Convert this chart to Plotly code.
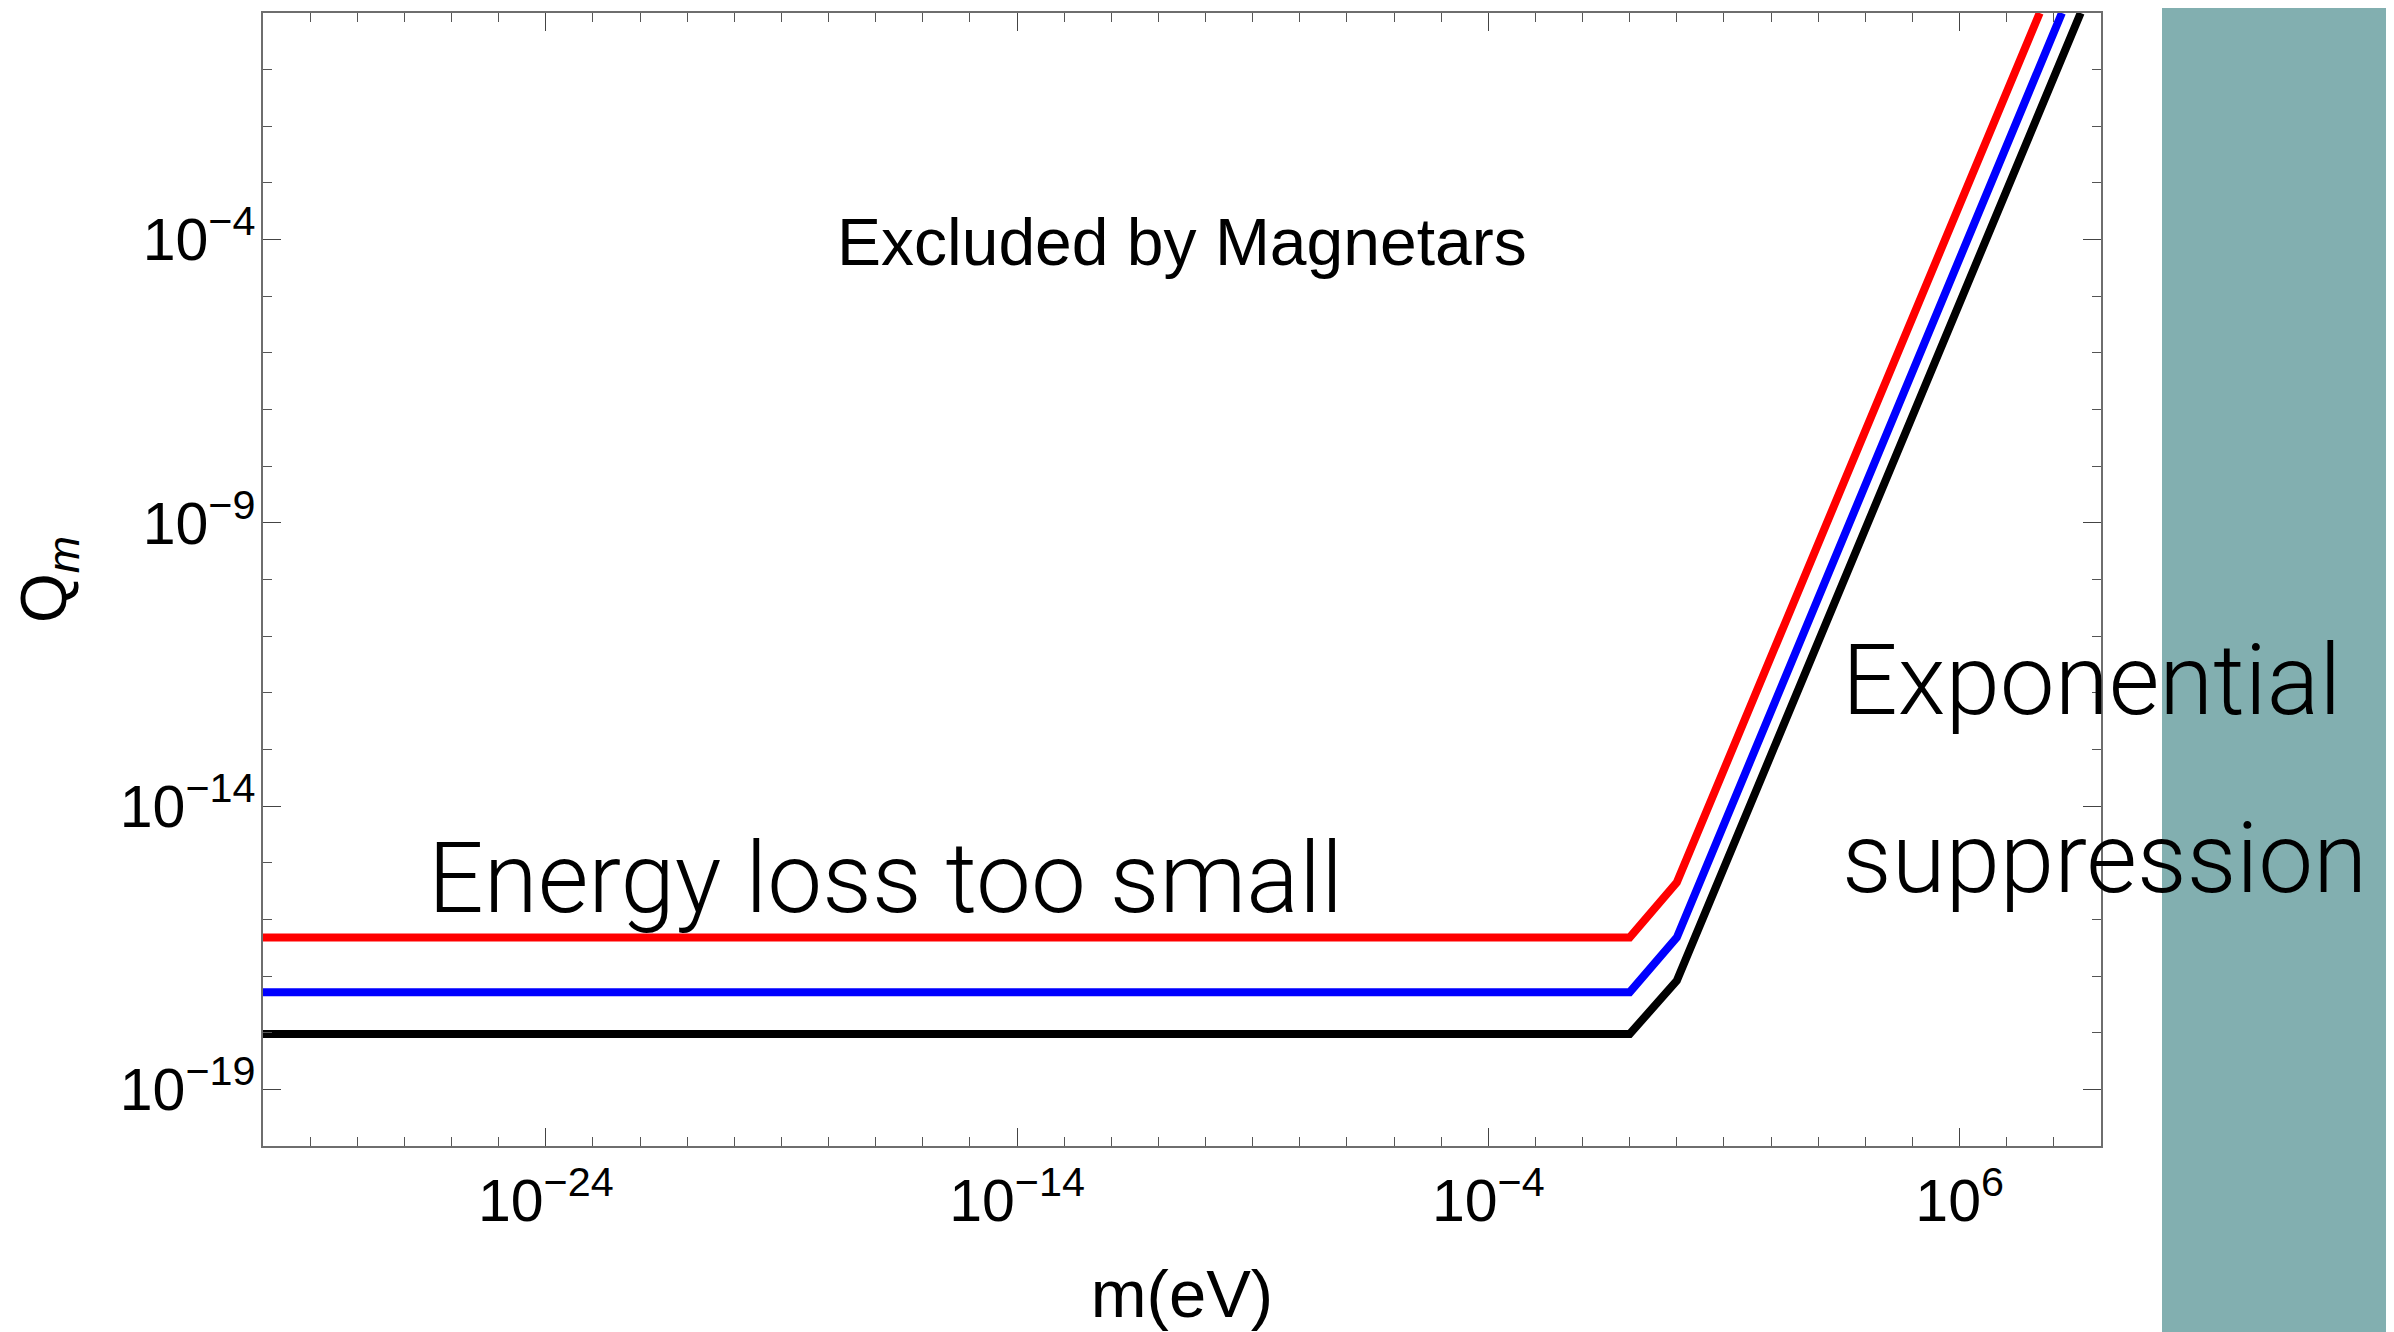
import plotly.graph_objects as go

# ---- data (m in eV, Q_m dimensionless) ----
m_red = [1e-30, 1e-1, 1e0, 5.0e7]
q_red = [4.8e-17, 4.8e-17, 4.5e-16, 1.0]

m_blue = [1e-30, 1e-1, 1e0, 1.48e8]
q_blue = [5.2e-18, 5.2e-18, 4.8e-17, 1.0]

m_black = [1e-30, 1e-1, 1e0, 3.7e8]
q_black = [9.5e-19, 9.5e-19, 8.3e-18, 1.0]

x_tickvals = [1e-24, 1e-14, 1e-4, 1e6]
x_ticktext = ["10<sup>\u221224</sup>", "10<sup>\u221214</sup>", "10<sup>\u22124</sup>", "10<sup>6</sup>"]
x_minor = [10.0 ** k for k in range(-30, 10)]

y_tickvals = [1e-19, 1e-14, 1e-9, 1e-4]
y_ticktext = ["10<sup>\u221219</sup>", "10<sup>\u221214</sup>", "10<sup>\u22129</sup>", "10<sup>\u22124</sup>"]
y_minor = [10.0 ** k for k in range(-20, 1)]

# page has an 8px body margin: figure is offset by 8px
OFF = 8
W, H = 2394 - OFF, 1332 - OFF
L, R, T, B = 263, 2101, 11, 1146   # plot area in page pixels


def px(x):
    return (x - L) / (R - L)


def py(y):
    return (B - y) / (B - T)


fig = go.Figure()
for m, q, c in [(m_red, q_red, "#ff0000"), (m_blue, q_blue, "#0000ff"), (m_black, q_black, "#000000")]:
    fig.add_trace(go.Scatter(x=m, y=q, mode="lines", line=dict(color=c, width=8),
                             showlegend=False, hoverinfo="skip"))

axis_common = dict(
    type="log", showgrid=False, zeroline=False, showline=True, linecolor="#6e6e6e", linewidth=1.5,
    mirror="allticks", ticks="inside", ticklen=18, tickwidth=1.3, tickcolor="#444444",
    tickfont=dict(family="Liberation Sans, Arial, sans-serif", size=59, color="#000000"),
)

fig.update_xaxes(
    range=[-30, 9], tickmode="array", tickvals=x_tickvals, ticktext=x_ticktext, ticklabelstandoff=2,
    minor=dict(tickmode="array", tickvals=x_minor, ticklen=9, tickwidth=1.2, tickcolor="#555555", ticks="inside"),
    title=dict(text="m(eV)", font=dict(family="Liberation Sans, Arial, sans-serif", size=67, color="#000000"), standoff=38),
    **axis_common,
)
fig.update_yaxes(
    range=[-20, 0], tickmode="array", tickvals=y_tickvals, ticktext=y_ticktext, ticklabelstandoff=-6,
    minor=dict(tickmode="array", tickvals=y_minor, ticklen=9, tickwidth=1.2, tickcolor="#555555", ticks="inside"),
    title=dict(text="Q<sub><i>m</i></sub>", font=dict(family="Liberation Sans, Arial, sans-serif", size=64, color="#000000"), standoff=34),
    **axis_common,
)

# teal paper strip on the right side of the slide
fig.add_shape(type="rect", xref="paper", yref="paper",
              x0=px(2162), x1=px(2386), y0=py(H + OFF + 5), y1=py(-5),
              fillcolor="#82afb0", line=dict(width=0), layer="below")

light = dict(family="Roboto, Lato, sans-serif", size=98, color="#000000", weight=300)
fig.add_annotation(text="Excluded by Magnetars", xref="paper", yref="paper",
                   x=px(1182), y=py(240), xanchor="center", yanchor="middle", showarrow=False,
                   font=dict(family="Liberation Sans, Arial, sans-serif", size=66, color="#000000"))
fig.add_annotation(text="Energy loss too small", xref="paper", yref="paper",
                   x=px(426), y=py(878), xanchor="left", yanchor="middle", showarrow=False, font=light)
fig.add_annotation(text="Exponential", xref="paper", yref="paper",
                   x=px(1840), y=py(680), xanchor="left", yanchor="middle", showarrow=False, font=light)
fig.add_annotation(text="suppression", xref="paper", yref="paper",
                   x=px(1840), y=py(858), xanchor="left", yanchor="middle", showarrow=False, font=light)

fig.update_layout(
    width=W, height=H, autosize=False,
    margin=dict(l=L - OFF, r=W - (R - OFF), t=T - OFF, b=H - (B - OFF), pad=0),
    plot_bgcolor="#ffffff", paper_bgcolor="#ffffff",
    font=dict(family="Liberation Sans, Arial, sans-serif", color="#000000"),
)

fig.write_html("out.html")
